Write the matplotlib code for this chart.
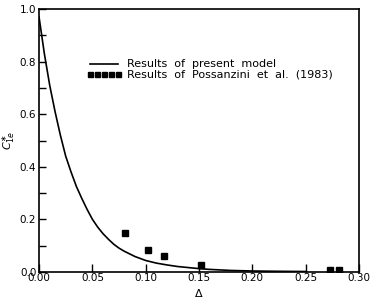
import matplotlib
matplotlib.use("Agg")
import matplotlib.pyplot as plt
from matplotlib.ticker import MultipleLocator, FormatStrFormatter

# Model curve
model_x = [0.0, 0.0025, 0.005, 0.0075, 0.01, 0.0125, 0.015, 0.0175, 0.02,
           0.0225, 0.025, 0.0275, 0.03, 0.035, 0.04, 0.045, 0.05, 0.055,
           0.06, 0.065, 0.07, 0.075, 0.08, 0.09, 0.10, 0.11, 0.12, 0.13,
           0.14, 0.15, 0.16, 0.18, 0.20, 0.22, 0.25]
model_y = [0.97, 0.90, 0.83, 0.77, 0.71, 0.66, 0.61, 0.565, 0.52,
           0.48, 0.44, 0.41, 0.38, 0.325, 0.28, 0.238, 0.20, 0.17,
           0.145, 0.124, 0.105, 0.09, 0.078, 0.058, 0.043, 0.033, 0.026, 0.02,
           0.016, 0.012, 0.009, 0.005, 0.003, 0.002, 0.001]

# Experimental points (Possanzini et al., 1983)
exp_x = [0.081, 0.102, 0.117, 0.152, 0.273, 0.281]
exp_y = [0.149, 0.083, 0.060, 0.025, 0.006, 0.006]

label_model = "Results  of  present  model"
label_exp = "Results  of  Possanzini  et  al.  (1983)"

fig = plt.figure(figsize=(3.72, 2.98), dpi=100)
ax = fig.add_axes([0.105, 0.088, 0.860, 0.881])

ln, = ax.plot(model_x, model_y, color="black", lw=1.2)
pts, = ax.plot(exp_x, exp_y, linestyle="none", marker="s", color="black",
               markersize=4.5)

ax.set_xlim(0, 0.30)
ax.set_ylim(0, 1.0)
ax.xaxis.set_major_locator(MultipleLocator(0.05))
ax.yaxis.set_major_locator(MultipleLocator(0.2))
ax.yaxis.set_minor_locator(MultipleLocator(0.1))
ax.xaxis.set_major_formatter(FormatStrFormatter("%.2f"))
ax.yaxis.set_major_formatter(FormatStrFormatter("%.1f"))
ax.tick_params(axis="both", which="both", direction="in", labelsize=7.5,
               width=1.0, top=False, right=False)
ax.tick_params(axis="x", which="major", length=6, pad=1)
ax.tick_params(axis="y", which="major", length=5, pad=2)
ax.tick_params(axis="y", which="minor", length=5)
for s in ax.spines.values():
    s.set_linewidth(1.2)

ax.set_xlabel(r"$\Delta$", fontsize=8)
ax.xaxis.set_label_coords(0.5, -0.058)
ax.set_ylabel(r"$C_{1e}^{\ast}$", fontsize=8)
ax.yaxis.set_label_coords(-0.068, 0.5)

leg = ax.legend([ln, pts], [label_model, label_exp], loc="upper left",
                bbox_to_anchor=(0.13, 0.83), frameon=False, numpoints=5,
                handlelength=3.2, handletextpad=0.5, fontsize=8,
                labelspacing=0.0, borderpad=0.0, markerscale=0.8)

fig.savefig("out.png", dpi=100)
